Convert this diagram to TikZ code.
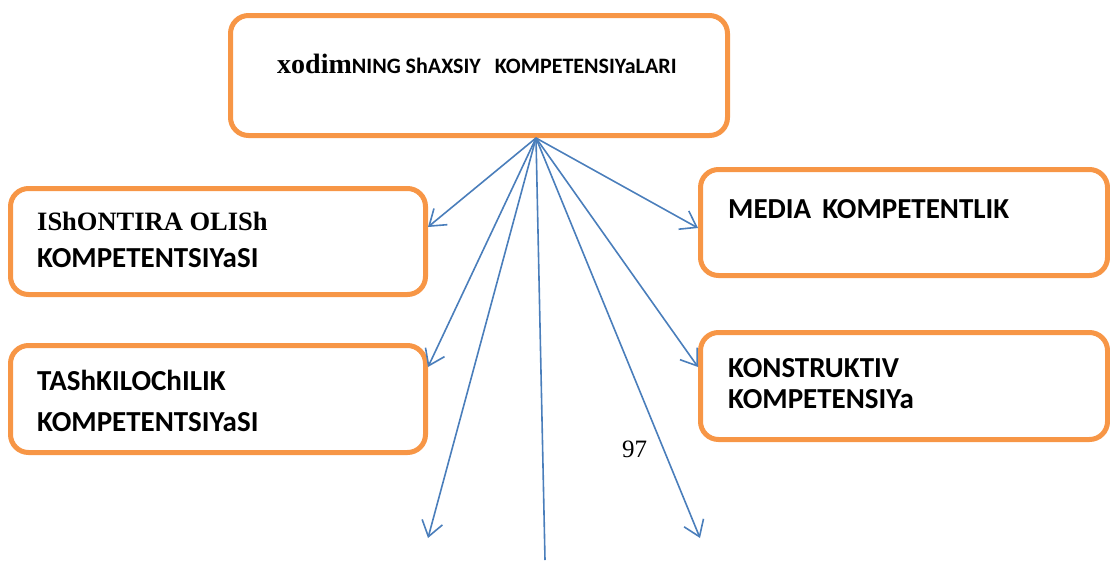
\documentclass[tikz,border=0pt]{standalone}
\usepackage{fontspec}
\setmainfont{Liberation Serif}
\newfontfamily\calibri{Carlito}
\usepackage{tikz}
\usetikzlibrary{arrows.meta}
\definecolor{boxorange}{RGB}{247,150,70}
\definecolor{lineblue}{RGB}{74,126,187}

\begin{document}
\begin{tikzpicture}[x=1pt, y=-1pt,
    box/.style={draw=boxorange, line width=5pt, rounded corners=18pt},
    lbl/.style={anchor=base west, inner sep=0pt, font=\calibri\bfseries\fontsize{29}{32}\selectfont},
    arr/.style={lineblue, line width=1.6pt, -{Straight Barb[length=15pt,width=21pt]}}]
    \useasboundingbox (0,0) rectangle (1110,560);

    % Competence boxes
    \node[box, minimum width=497pt, minimum height=120pt] (top) at (479,75.5) {};
    \node[box, minimum width=415pt, minimum height=106pt] (ishontira) at (218,241.5) {};
    \node[box, minimum width=415pt, minimum height=107pt] (tashkil) at (218,399) {};
    \node[box, minimum width=407pt, minimum height=106pt] (media) at (904,222.5) {};
    \node[box, minimum width=407pt, minimum height=107pt] (konstr) at (904,386) {};

    % Box texts
    \node[lbl, font=\calibri\bfseries\fontsize{22}{26}\selectfont] (toptxt) at (277,73)
        {{\rmfamily\fontsize{28}{30}\selectfont xodim}NING ShAXSIY\hspace{14pt}KOMPETENSIYaLARI};
    \node[lbl, font=\rmfamily\bfseries\fontsize{26.5}{30}\selectfont] (ishtxt) at (37,230) {IShONTIRA OLISh};
    \node[lbl] (ishtxtb) at (37,267) {KOMPETENTSIYaSI};
    \node[lbl] (tashtxt) at (37,390) {TAShKILOChILIK};
    \node[lbl] (tashtxtb) at (37,431) {KOMPETENTSIYaSI};
    \node[lbl] (medtxt) at (728,218) {MEDIA\hspace{11pt}KOMPETENTLIK};
    \node[lbl] (kontxt) at (728,377) {KONSTRUKTIV};
    \node[lbl] (kontxtb) at (728,408) {KOMPETENSIYa};
    \node[anchor=base west, inner sep=0pt, font=\fontsize{25}{28}\selectfont] (pagenum) at (622,457) {97};

    % Fan of arrows
    \coordinate (src) at ([xshift=57pt]top.south);
    \coordinate (d1) at (428,538);
    \coordinate (d2) at (545,560);
    \coordinate (d3) at (700,538);
    \draw[arr] (src) -- ([yshift=14.5pt]ishontira.east);
    \draw[arr] (src) -- ([yshift=32pt]tashkil.east);
    \draw[arr] (src) -- ([yshift=-5.5pt]media.west);
    \draw[arr] (src) -- ([yshift=19pt]konstr.west);
    \foreach \d in {d1,d3}
        \draw[arr] (src) -- (\d);
    \draw[lineblue, line width=1.6pt] (src) -- (d2);
\end{tikzpicture}
\end{document}
